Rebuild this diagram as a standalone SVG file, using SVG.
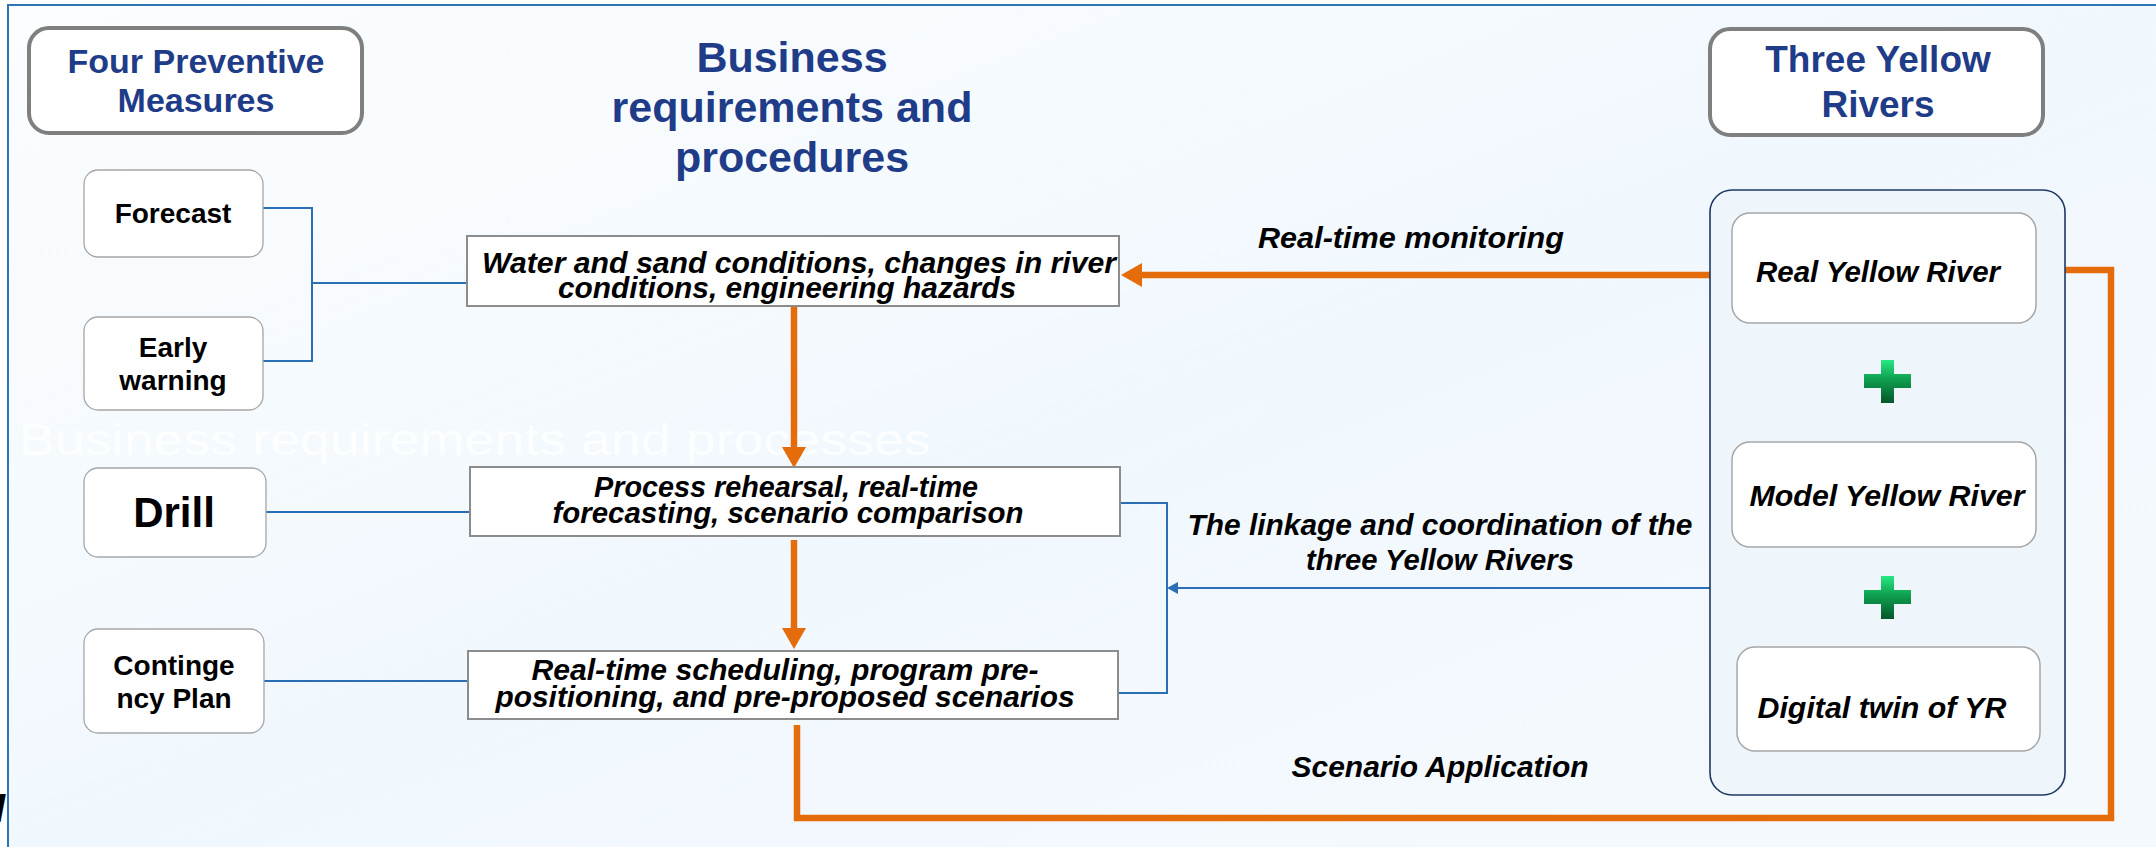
<svg xmlns="http://www.w3.org/2000/svg" width="2156" height="847" viewBox="0 0 2156 847">
  <defs>
    <linearGradient id="bg" x1="0" y1="0" x2="1" y2="1">
      <stop offset="0" stop-color="#fbfdff"/>
      <stop offset="0.5" stop-color="#f1f8fd"/>
      <stop offset="1" stop-color="#f4f9fd"/>
    </linearGradient>
    <linearGradient id="plusGrad" x1="0" y1="0" x2="0" y2="1">
      <stop offset="0" stop-color="#25e883"/>
      <stop offset="0.45" stop-color="#0f9f50"/>
      <stop offset="1" stop-color="#06562a"/>
    </linearGradient>
    <marker id="arrOrange" markerUnits="userSpaceOnUse" markerWidth="22" markerHeight="24" refX="0" refY="12" orient="auto">
      <path d="M0,0 L21,12 L0,24 z" fill="#e46c0a"/>
    </marker>
    <marker id="arrBlue" markerUnits="userSpaceOnUse" markerWidth="12" markerHeight="14" refX="0" refY="7" orient="auto">
      <path d="M0,1 L11,7 L0,13 z" fill="#2a6fb5"/>
    </marker>
  </defs>
  <style>
    .hdr { fill: #ffffff; stroke: #7f7f7f; stroke-width: 4; }
    .small { fill: #ffffff; stroke: #a6a6a6; stroke-width: 1.3; }
    .proc { fill: #ffffff; stroke: #8c8c8c; stroke-width: 2; }
    .inner { fill: #ffffff; stroke: #a6a6a6; stroke-width: 1.5; }
    .cont { fill: #eef6fc; stroke: #1f3864; stroke-width: 1.6; }
    .blue { fill: none; stroke: #2a6fb5; stroke-width: 2; }
    .orange { fill: none; stroke: #e46c0a; stroke-width: 6.5; }
    .t-hdr { font-family: "Liberation Sans", Arial, sans-serif; font-weight: bold; fill: #1f3c88; text-anchor: middle; }
    .t-sm { font-family: "Liberation Sans", Arial, sans-serif; font-weight: bold; fill: #000000; text-anchor: middle; font-size: 28px; }
    .t-big { font-family: "Liberation Sans", Arial, sans-serif; font-weight: bold; fill: #000000; text-anchor: middle; font-size: 42px; }
    .t-it { font-family: "Liberation Sans", Arial, sans-serif; font-weight: bold; font-style: italic; fill: #000000; text-anchor: middle; font-size: 30px; }
    .plus { fill: url(#plusGrad); }
  </style>

  <rect x="0" y="0" width="2156" height="847" fill="#ffffff"/>
  <rect x="8" y="5" width="2148" height="842" fill="url(#bg)"/>
  <path d="M8,847 V5 H2156" fill="none" stroke="#2e75b6" stroke-width="2"/>

  <text x="19" y="455" font-family="Liberation Sans, Arial, sans-serif" font-size="44" fill="#ffffff" fill-opacity="0.75" textLength="912" lengthAdjust="spacingAndGlyphs">Business requirements and processes</text>
  <text x="-6" y="822" font-family="Liberation Sans, Arial, sans-serif" font-size="40" font-weight="bold" font-style="italic" fill="#000000">I</text>

  <g id="connectors">
    <path class="blue" d="M263,208 H312 V361 H263 M312,283 H467"/>
    <path class="blue" d="M266,512 H470"/>
    <path class="blue" d="M264,681 H468"/>
    <path class="blue" d="M1120,503 H1167 V693 H1118"/>
    <path class="blue" d="M1710,588 H1178" marker-end="url(#arrBlue)"/>
    <path class="orange" d="M794,306 V447" marker-end="url(#arrOrange)"/>
    <path class="orange" d="M794,540 V628" marker-end="url(#arrOrange)"/>
    <path class="orange" d="M1732,275 H1142" marker-end="url(#arrOrange)"/>
    <path class="orange" d="M797,725 V818 H2111 V270 H2057" marker-end="url(#arrOrange)"/>
    <text class="t-it" x="1411" y="248" textLength="306" lengthAdjust="spacingAndGlyphs">Real-time monitoring</text>
    <text class="t-it" x="1440" y="535" textLength="505" lengthAdjust="spacingAndGlyphs">The linkage and coordination of the</text>
    <text class="t-it" x="1440" y="570" textLength="268" lengthAdjust="spacingAndGlyphs">three Yellow Rivers</text>
    <text class="t-it" x="1440" y="777" textLength="297" lengthAdjust="spacingAndGlyphs">Scenario Application</text>
  </g>

  <g id="four-preventive">
    <rect class="hdr" x="29" y="28" width="333" height="105" rx="20"/>
    <text class="t-hdr" x="196" y="73" font-size="34">Four Preventive</text>
    <text class="t-hdr" x="196" y="112" font-size="34">Measures</text>
  </g>

  <g id="title">
    <text class="t-hdr" x="792" y="72" font-size="43">Business</text>
    <text class="t-hdr" x="792" y="122" font-size="43">requirements and</text>
    <text class="t-hdr" x="792" y="172" font-size="43">procedures</text>
  </g>

  <g id="three-yellow">
    <rect class="hdr" x="1710" y="29" width="333" height="106" rx="20"/>
    <text class="t-hdr" x="1878" y="72" font-size="37">Three Yellow</text>
    <text class="t-hdr" x="1878" y="117" font-size="37">Rivers</text>
  </g>

  <g id="forecast">
    <rect class="small" x="84" y="170" width="179" height="87" rx="14"/>
    <text class="t-sm" x="173" y="223">Forecast</text>
  </g>
  <g id="early-warning">
    <rect class="small" x="84" y="317" width="179" height="93" rx="14"/>
    <text class="t-sm" x="173" y="357">Early</text>
    <text class="t-sm" x="173" y="390">warning</text>
  </g>
  <g id="drill">
    <rect class="small" x="84" y="468" width="182" height="89" rx="14"/>
    <text class="t-big" x="174" y="527">Drill</text>
  </g>
  <g id="contingency">
    <rect class="small" x="84" y="629" width="180" height="104" rx="14"/>
    <text class="t-sm" x="174" y="675">Continge</text>
    <text class="t-sm" x="174" y="708">ncy Plan</text>
  </g>

  <g id="proc-water">
    <rect class="proc" x="467" y="236" width="652" height="70"/>
    <text class="t-it" x="799" y="273" textLength="634" lengthAdjust="spacingAndGlyphs">Water and sand conditions, changes in river</text>
    <text class="t-it" x="787" y="298" textLength="458" lengthAdjust="spacingAndGlyphs">conditions, engineering hazards</text>
  </g>
  <g id="proc-rehearsal">
    <rect class="proc" x="470" y="467" width="650" height="69"/>
    <text class="t-it" x="786" y="497" textLength="384" lengthAdjust="spacingAndGlyphs">Process rehearsal, real-time</text>
    <text class="t-it" x="788" y="523" textLength="471" lengthAdjust="spacingAndGlyphs">forecasting, scenario comparison</text>
  </g>
  <g id="proc-scheduling">
    <rect class="proc" x="468" y="651" width="650" height="68"/>
    <text class="t-it" x="785" y="680" textLength="507" lengthAdjust="spacingAndGlyphs">Real-time scheduling, program pre-</text>
    <text class="t-it" x="785" y="707" textLength="579" lengthAdjust="spacingAndGlyphs">positioning, and pre-proposed scenarios</text>
  </g>

  <g id="three-rivers-group">
    <rect class="cont" x="1710" y="190" width="355" height="605" rx="22"/>
  </g>
  <g id="real-yellow-river">
    <rect class="inner" x="1732" y="213" width="304" height="110" rx="18"/>
    <text class="t-it" x="1878" y="282" textLength="244" lengthAdjust="spacingAndGlyphs">Real Yellow River</text>
  </g>
  <g id="plus-1">
    <path class="plus" d="M1881,360 H1894 V374 H1911 V388 H1894 V403 H1881 V388 H1864 V374 H1881 Z"/>
  </g>
  <g id="model-yellow-river">
    <rect class="inner" x="1732" y="442" width="304" height="105" rx="18"/>
    <text class="t-it" x="1887" y="506" textLength="275" lengthAdjust="spacingAndGlyphs">Model Yellow River</text>
  </g>
  <g id="plus-2">
    <path class="plus" d="M1881,576 H1894 V590 H1911 V604 H1894 V619 H1881 V604 H1864 V590 H1881 Z"/>
  </g>
  <g id="digital-twin">
    <rect class="inner" x="1737" y="647" width="303" height="104" rx="18"/>
    <text class="t-it" x="1882" y="718" textLength="249" lengthAdjust="spacingAndGlyphs">Digital twin of YR</text>
  </g>
</svg>
